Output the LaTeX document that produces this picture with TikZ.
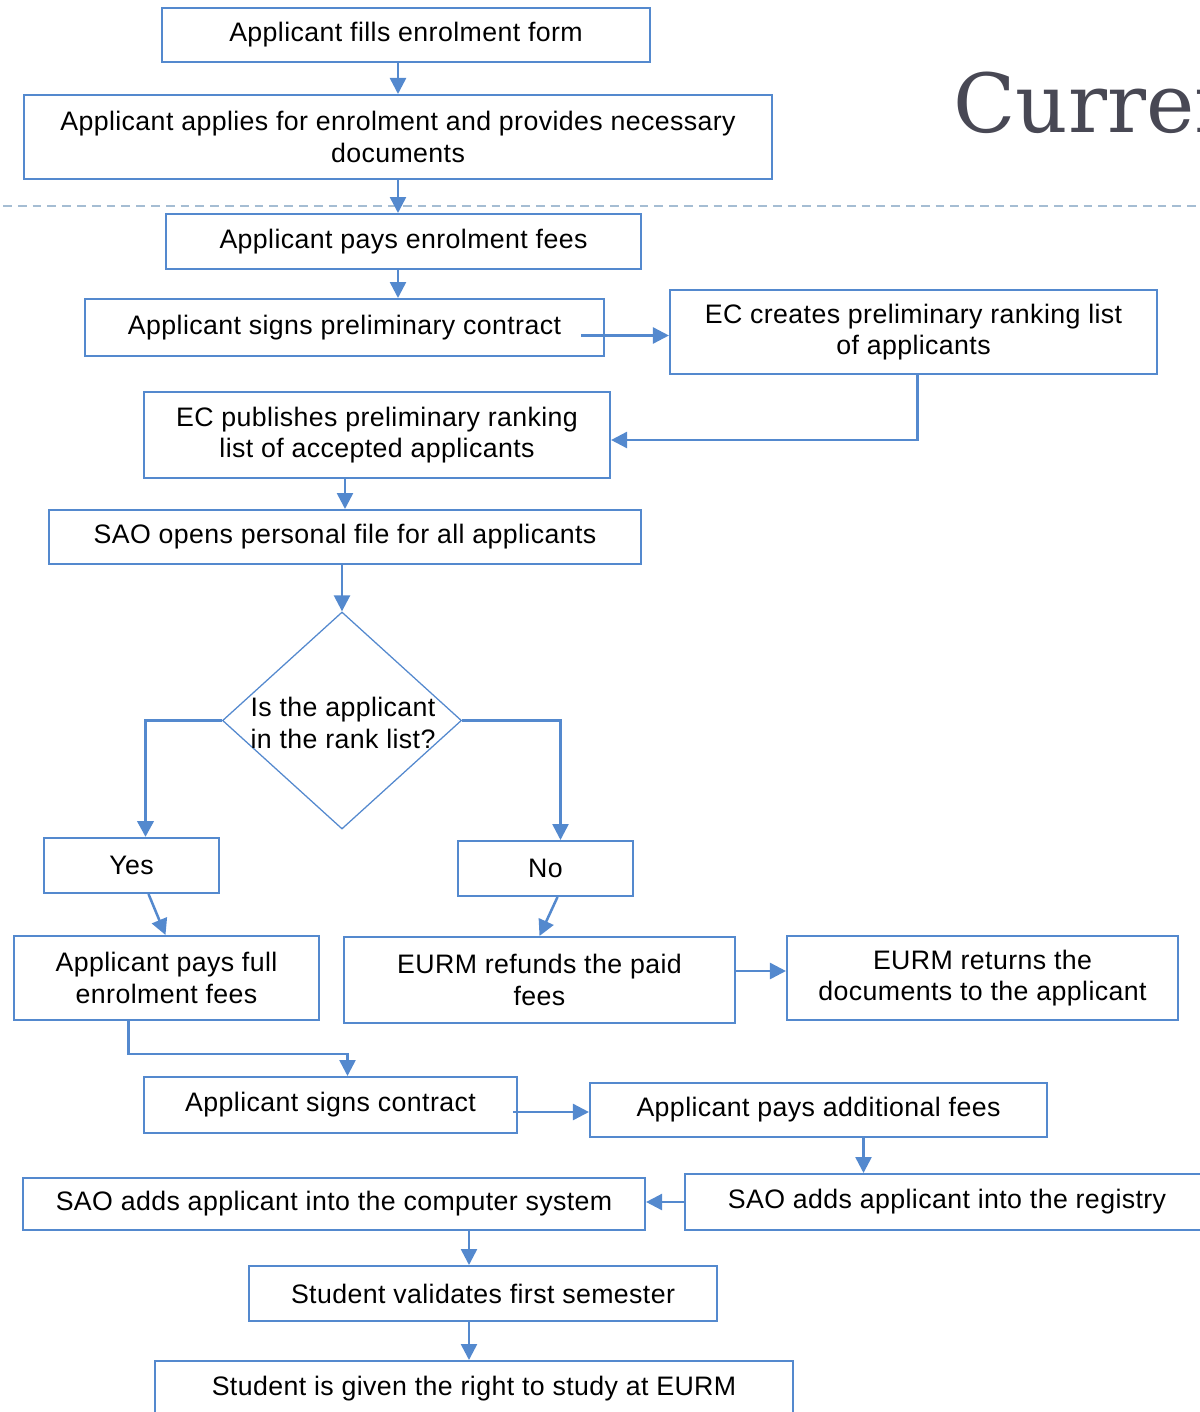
\documentclass[tikz,border=0pt]{standalone}
\usepackage{fontspec}
\setmainfont{Liberation Sans}[LetterSpace=1.5]
\newfontfamily\titlefont{DejaVu Serif}
\usetikzlibrary{arrows.meta,shapes.geometric}
\definecolor{boxblue}{RGB}{84,137,206}
\definecolor{dashgrey}{RGB}{165,189,211}
\definecolor{titlegrey}{RGB}{72,72,84}

\begin{document}
\begin{tikzpicture}[x=0.025cm,y=-0.025cm]
	\tikzstyle{every node}+=[inner sep=0pt]
	\tikzstyle{box}=[draw=boxblue, line width=1.4pt, align=center, font=\fontsize{19}{22.5}\selectfont]
	\tikzstyle{flow}=[boxblue, line width=1.8pt, -{Triangle[width=0.4cm,length=0.4cm]}]
	\useasboundingbox (0,0) rectangle (1200,1412);
	\clip (0,0) rectangle (1200,1412);
	% slide title and divider
	\draw (953,133) node[anchor=base west, text=titlegrey, font=\titlefont\fontsize{58}{58}\selectfont] (title) {Current};
	\draw [dashgrey, line width=1.5pt, dash pattern=on 0.22cm off 0.15cm] (3,206) -- (1200,206);
	% boxes
	\draw (406,35) node[box, minimum width=12.2cm, minimum height=1.35cm] (fill) {Applicant fills enrolment form};
	\draw (398,137) node[box, minimum width=18.7cm, minimum height=2.1cm] (apply) {Applicant applies for enrolment and provides necessary\\documents};
	\draw (403.5,241.5) node[box, minimum width=11.875cm, minimum height=1.375cm] (pay) {Applicant pays enrolment fees};
	\draw (344.5,327.5) node[box, minimum width=12.975cm, minimum height=1.425cm] (presign) {Applicant signs preliminary contract};
	\draw (913.5,332) node[box, minimum width=12.175cm, minimum height=2.1cm] (ecrank) {EC creates preliminary ranking list\\of applicants};
	\draw (377,435) node[box, minimum width=11.65cm, minimum height=2.15cm] (ecpub) {EC publishes preliminary ranking\\list of accepted applicants};
	\draw (345,537) node[box, minimum width=14.8cm, minimum height=1.35cm] (file) {SAO opens personal file for all applicants};
	\draw (342,720.5) node[diamond, draw=boxblue, line width=0.9pt, minimum width=5.975cm, minimum height=5.425cm] (rank) {};
	\draw (343,723) node[align=center, font=\fontsize{19}{22.5}\selectfont] (ranktext) {Is the applicant\\in the rank list?};
	\draw (131.5,865.5) node[box, minimum width=4.375cm, minimum height=1.375cm] (yes) {Yes};
	\draw (545.5,868.5) node[box, minimum width=4.375cm, minimum height=1.375cm] (no) {No};
	\draw (166.5,978) node[box, minimum width=7.625cm, minimum height=2.1cm] (payfull) {Applicant pays full\\enrolment fees};
	\draw (539.5,980) node[box, minimum width=9.775cm, minimum height=2.15cm] (refund) {EURM refunds the paid\\fees};
	\draw (982.5,978) node[box, minimum width=9.775cm, minimum height=2.1cm] (return) {EURM returns the\\documents to the applicant};
	\draw (330.5,1105) node[box, minimum width=9.325cm, minimum height=1.4cm] (sign) {Applicant signs contract};
	\draw (818.5,1110) node[box, minimum width=11.425cm, minimum height=1.35cm] (addfees) {Applicant pays additional fees};
	\draw (334,1204) node[box, minimum width=15.55cm, minimum height=1.3cm] (system) {SAO adds applicant into the computer system};
	\draw (947,1202) node[box, minimum width=13.1cm, minimum height=1.4cm] (registry) {SAO adds applicant into the registry};
	\draw (483,1293.5) node[box, minimum width=11.7cm, minimum height=1.375cm] (validate) {Student validates first semester};
	\draw (474,1389) node[box, minimum width=15.95cm, minimum height=1.4cm] (right) {Student is given the right to study at EURM};
	% connectors
	\coordinate (c1) at ([shift={(-24,8)}]presign.east);
	\coordinate (c2) at ([shift={(0,-9)}]refund.east);
	\coordinate (c3) at ([shift={(-5,7)}]sign.east);
	\draw [flow] (fill.south -| apply.north) -- (apply.north);
	\draw [flow] (apply.south) -- (apply.south |- pay.north);
	\draw [flow] (pay.south -| apply.south) -- (presign.north -| apply.south);
	\draw [flow] (c1) -- (c1 -| ecrank.west);
	\draw [flow] ([shift={(4,0)}]ecrank.south) |- ([shift={(0,5)}]ecpub.east);
	\draw [flow] (file.north |- ecpub.south) -- (file.north);
	\draw [flow] (file.south -| rank.north) -- (rank.north);
	\draw [flow, line width=2.8pt] (rank.west) -| ([shift={(14,0)}]yes.north);
	\draw [flow] (rank.east) -| ([shift={(15,0)}]no.north);
	\draw [flow] ([shift={(17,0)}]yes.south) -- ([shift={(-1,0)}]payfull.north);
	\draw [flow] ([shift={(12,0)}]no.south) -- (refund.north);
	\draw [flow] (c2) -- (c2 -| return.west);
	\draw [flow] ([shift={(-38,0)}]payfull.south) -- ++(0,33) -| ([shift={(17,0)}]sign.north);
	\draw [flow] (c3) -- (c3 -| addfees.west);
	\draw [flow] ([shift={(45,0)}]addfees.south) -- ([shift={(45,0)}]addfees.south |- registry.north);
	\draw [flow] (registry.west) -- (registry.west -| system.east);
	\draw [flow] ([shift={(135,0)}]system.south) -- ([shift={(135,0)}]system.south |- validate.north);
	\draw [flow] ([shift={(-14,0)}]validate.south) -- ([shift={(-14,0)}]validate.south |- right.north);
\end{tikzpicture}
\end{document}
